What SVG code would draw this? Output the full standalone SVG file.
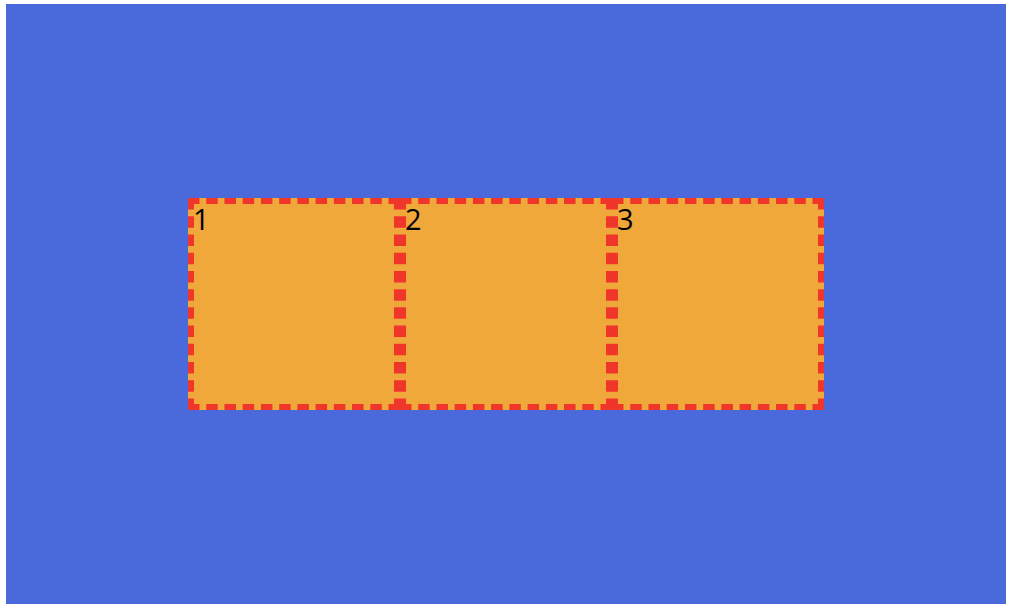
<svg xmlns="http://www.w3.org/2000/svg" width="1014" height="612" viewBox="0 0 1014 612">
  <style>
    .bg { fill: #f0a83a; }
    .border { fill: none; stroke: #f0352b; stroke-width: 6; stroke-dasharray: 11.5 6.727; }
    .box text { font-family: "Open Sans", "Noto Sans", sans-serif; font-size: 29px; fill: #000; }
  </style>
  <defs>
    <g id="frame">
      <rect class="bg" x="0" y="0" width="212" height="212"/>
      <path class="border" d="M0,3 H212 M0,209 H212 M3,0 V212 M209,0 V212"/>
    </g>
  </defs>
  <rect x="6" y="4" width="1000" height="600" fill="#4a69db"/>
  <g id="box1" class="box">
    <use href="#frame" x="188" y="198"/>
    <text x="193" y="229.5">1</text>
  </g>
  <g id="box2" class="box">
    <use href="#frame" x="400" y="198"/>
    <text x="405" y="229.5">2</text>
  </g>
  <g id="box3" class="box">
    <use href="#frame" x="612" y="198"/>
    <text x="617" y="229.5">3</text>
  </g>
  <g id="connectors"/>
</svg>
